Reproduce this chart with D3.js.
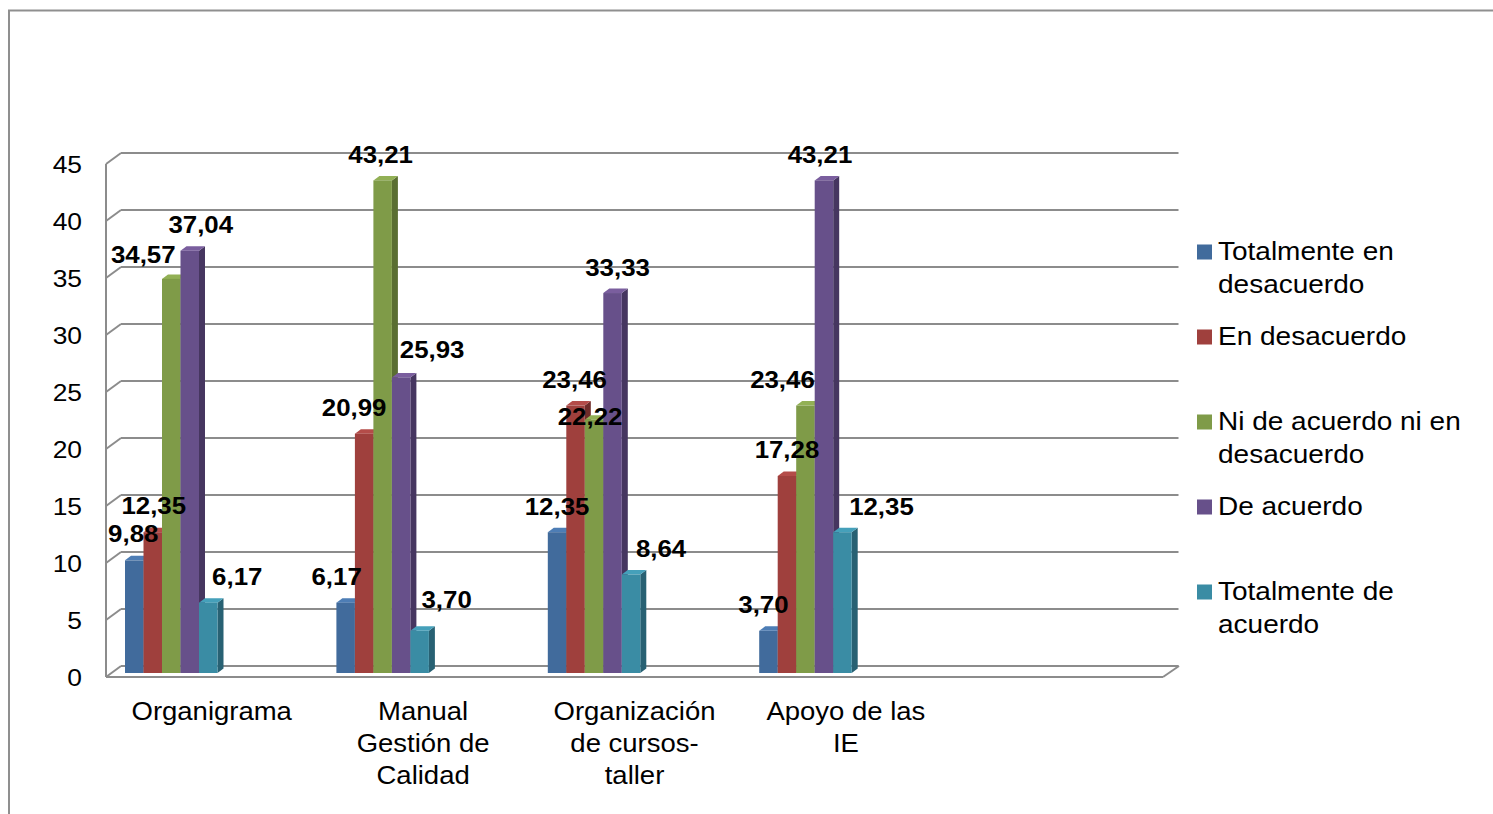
<!DOCTYPE html>
<html>
<head>
<meta charset="utf-8">
<script src="https://cdn.jsdelivr.net/npm/d3@7"></script>
<style>
  html, body { margin: 0; padding: 0; background: #fff; }
  svg { display: block; font-family: "Liberation Sans", Arial, sans-serif; }
</style>
</head>
<body>
<svg id="chart" width="1493" height="814"></svg>
<script>
// ---------- data ----------
const categories = ["Organigrama", "Manual Gestión de Calidad", "Organización de cursos-taller", "Apoyo de las IE"];
const categoryLabelLines = [["Organigrama"], ["Manual", "Gestión de", "Calidad"], ["Organización", "de cursos-", "taller"], ["Apoyo de las", "IE"]];
const seriesNames = ["Totalmente en desacuerdo", "En desacuerdo", "Ni de acuerdo ni en desacuerdo", "De acuerdo", "Totalmente de acuerdo"];
const legendLines = [["Totalmente en", "desacuerdo"], ["En desacuerdo"], ["Ni de acuerdo ni en", "desacuerdo"], ["De acuerdo"], ["Totalmente de", "acuerdo"]];
const totalmenteEnDesacuerdo = [9.88, 6.17, 12.35, 3.70];
const enDesacuerdo = [12.35, 20.99, 23.46, 17.28];
const niDeAcuerdoNiEnDesacuerdo = [34.57, 43.21, 22.22, 23.46];
const deAcuerdo = [37.04, 25.93, 33.33, 43.21];
const totalmenteDeAcuerdo = [6.17, 3.70, 8.64, 12.35];
const yTicks = [0, 5, 10, 15, 20, 25, 30, 35, 40, 45];

// ---------- style / layout ----------
const seriesValues = [totalmenteEnDesacuerdo, enDesacuerdo, niDeAcuerdoNiEnDesacuerdo, deAcuerdo, totalmenteDeAcuerdo];
const frontColors = ["#416b9c", "#9f403d", "#7f9b48", "#67508a", "#3a8ca4"];
const topColors   = ["#4d7db5", "#b44c49", "#92b055", "#7a5e9e", "#45a0ba"];
const sideColors  = ["#2e4c70", "#6f2b29", "#5a6e32", "#463660", "#286173"];
// label nudges (layout only): [category][series]
const labelDx = [[-1, 1, -28, 11, 29], [-9, -10, -2, 31, 27], [0, -1, -4, 5, 30], [-5, 0, -23, -4, 39]];
const labelDy = [[0, 0, 2, 0, 0], [0, 0, 1, -1, -5], [1, 0, 23, 1, 0], [0, 0, 0, 1, 1]];

const svg = d3.select("#chart");
const SX = 1.1; // horizontal text stretch of the original

const frontLeft = 106, frontRight = 1163;
const depthDx = 15, depthDy = -11;
const barDx = 6, barDy = -4.5;
const gridColor = "#8c8c8c";

// outer border
svg.append("rect").attr("x", 9).attr("y", 10.5).attr("width", 1600).attr("height", 900)
  .attr("fill", "none").attr("stroke", "#8f8f8f").attr("stroke-width", 2);

const y = d3.scaleLinear().domain([0, 45]).range([677, 164]);
const slotDomain = categories.concat([" "]);
const x = d3.scaleBand().domain(slotDomain).range([frontLeft, frontRight]).padding(0);
const xs = d3.scaleBand().domain(seriesNames).range([19, 19 + 92.5]).padding(0);
const barBase = 673; // bar plane offset
const barY = v => y(v) - (677 - barBase);

const g = svg.append("g");

// back wall gridlines
g.selectAll("line.grid").data(yTicks).enter().append("line")
  .attr("x1", frontLeft + depthDx).attr("x2", frontRight + depthDx + 0.5)
  .attr("y1", d => y(d) + depthDy).attr("y2", d => y(d) + depthDy)
  .attr("stroke", gridColor).attr("stroke-width", 2);
// side wall diagonals
g.selectAll("line.diag").data(yTicks).enter().append("line")
  .attr("x1", frontLeft).attr("x2", frontLeft + depthDx)
  .attr("y1", d => y(d)).attr("y2", d => y(d) + depthDy)
  .attr("stroke", gridColor).attr("stroke-width", 2);
// front left axis
g.append("line").attr("x1", frontLeft).attr("x2", frontLeft)
  .attr("y1", y(45)).attr("y2", y(0)).attr("stroke", gridColor).attr("stroke-width", 2);
// floor front edge and right edge
g.append("line").attr("x1", frontLeft).attr("x2", frontRight)
  .attr("y1", y(0)).attr("y2", y(0)).attr("stroke", gridColor).attr("stroke-width", 2);
g.append("line").attr("x1", frontRight).attr("x2", frontRight + depthDx + 1)
  .attr("y1", y(0)).attr("y2", y(0) + depthDy).attr("stroke", gridColor).attr("stroke-width", 2);

// y tick labels
g.selectAll("text.ytick").data(yTicks).enter().append("text")
  .attr("transform", d => `translate(82,${y(d)}) scale(${SX},1)`)
  .attr("text-anchor", "end").attr("dominant-baseline", "central")
  .attr("font-size", 24).attr("fill", "#000").text(d => d);

// bars
categories.forEach((cat, ci) => {
  seriesNames.forEach((s, si) => {
    const v = seriesValues[si][ci];
    const x0 = x(cat) + xs(s), w = xs.bandwidth();
    const yt = barY(v), yb = barY(0);
    const bar = g.append("g");
    bar.append("path").attr("fill", sideColors[si])
      .attr("d", `M${x0 + w},${yt} L${x0 + w + barDx},${yt + barDy} L${x0 + w + barDx},${yb + barDy} L${x0 + w},${yb} Z`);
    bar.append("path").attr("fill", topColors[si])
      .attr("d", `M${x0},${yt} L${x0 + barDx},${yt + barDy} L${x0 + w + barDx},${yt + barDy} L${x0 + w},${yt} Z`);
    bar.append("rect").attr("x", x0).attr("y", yt).attr("width", w).attr("height", yb - yt)
      .attr("fill", frontColors[si]);
  });
});

// data labels
categories.forEach((cat, ci) => {
  seriesNames.forEach((s, si) => {
    const v = seriesValues[si][ci];
    const cx = x(cat) + xs(s) + xs.bandwidth() / 2 + labelDx[ci][si];
    const cy = barY(v) - 26 + labelDy[ci][si];
    g.append("text")
      .attr("transform", `translate(${cx},${cy}) scale(${SX},1)`)
      .attr("text-anchor", "middle").attr("dominant-baseline", "central")
      .attr("font-size", 23.5).attr("font-weight", "bold").attr("fill", "#000")
      .text(d3.format(".2f")(v).replace(".", ","));
  });
});

// category labels
categories.forEach((cat, ci) => {
  const cx = x(cat) + x.bandwidth() / 2;
  categoryLabelLines[ci].forEach((line, li) => {
    g.append("text")
      .attr("transform", `translate(${cx},${711 + li * 32}) scale(${SX},1)`)
      .attr("text-anchor", "middle").attr("dominant-baseline", "central")
      .attr("font-size", 25).attr("fill", "#000").text(line);
  });
});

// legend
const legend = svg.append("g");
seriesNames.forEach((s, si) => {
  const ly = 252 + si * 85;
  legend.append("rect").attr("x", 1197).attr("y", ly - 7.5).attr("width", 15).attr("height", 15)
    .attr("fill", frontColors[si]);
  legendLines[si].forEach((line, li) => {
    legend.append("text")
      .attr("transform", `translate(1218,${ly + li * 33}) scale(${SX + 0.02},1)`)
      .attr("dominant-baseline", "central")
      .attr("font-size", 25).attr("fill", "#000").text(line);
  });
});
</script>
</body>
</html>
